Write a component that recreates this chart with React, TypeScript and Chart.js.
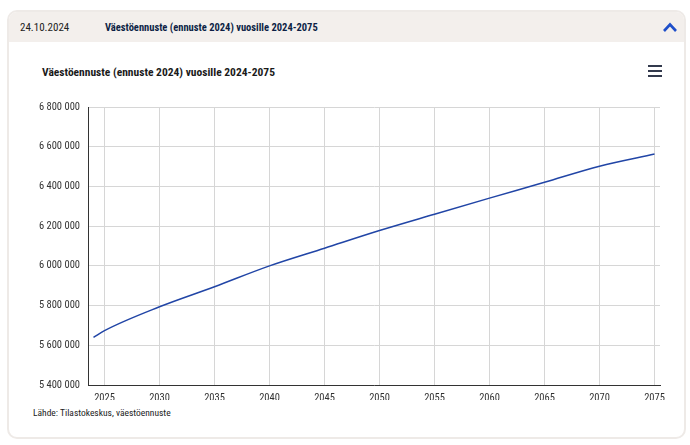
import React, { useEffect, useRef } from "react";
import { Chart, registerables } from "chart.js";

Chart.register(...registerables);

const years = [2024, 2025, 2030, 2035, 2040, 2045, 2050, 2055, 2060, 2065, 2070, 2075];
const population = [5640000, 5674000, 5794000, 5895000, 6000000, 6089000, 6178000, 6260000, 6341000, 6421000, 6502000, 6563000];
const xTickYears = [2025, 2030, 2035, 2040, 2045, 2050, 2055, 2060, 2065, 2070, 2075];
const yMin = 5400000;
const yMax = 6800000;
const yStep = 200000;

const headerDate = "24.10.2024";
const chartTitle = "Väestöennuste (ennuste 2024) vuosille 2024-2075";
const sourceText = "Lähde: Tilastokeskus, väestöennuste";

const FONT = '"Liberation Sans Narrow", "Roboto Condensed", Roboto, sans-serif';

function fmt(v: number) {
  return String(Math.round(v)).replace(/\B(?=(\d{3})+(?!\d))/g, " ");
}

export default function App() {
  const ref = useRef<HTMLCanvasElement | null>(null);

  useEffect(() => {
    if (!ref.current) return;
    const chart = new Chart(ref.current, {
      type: "line",
      data: {
        datasets: [
          {
            data: years.map((y, i) => ({ x: y, y: population[i] })),
            borderColor: "#2145a6",
            borderWidth: 1.5,
            pointRadius: 0,
            cubicInterpolationMode: "monotone",
            fill: false,
          },
        ],
      },
      options: {
        animation: false,
        responsive: false,
        maintainAspectRatio: false,
        layout: { padding: { left: 20, right: 30, top: 107, bottom: 45 } },
        plugins: { legend: { display: false }, tooltip: { enabled: false }, title: { display: false } },
        scales: {
          x: {
            type: "linear",
            min: 2023.5,
            max: 2075.5,
            afterBuildTicks: (scale: any) => {
              scale.ticks = xTickYears.map((v) => ({ value: v }));
            },
            afterFit: (scale: any) => {
              scale.height = 15;
            },
            grid: { color: "#d6d6d6", lineWidth: 1, drawTicks: false },
            border: { color: "#333333", width: 1 },
            ticks: {
              padding: 7,
              color: "#333333",
              font: { family: FONT, size: 10.5 },
              callback: (v: any) => String(v),
              maxRotation: 0,
              autoSkip: false,
            },
          },
          y: {
            type: "linear",
            min: yMin,
            max: yMax,
            afterFit: (scale: any) => {
              scale.width = 68;
            },
            grid: { color: "#d6d6d6", lineWidth: 1, drawTicks: false },
            border: { color: "#333333", width: 1 },
            ticks: {
              stepSize: yStep,
              padding: 8,
              color: "#333333",
              font: { family: FONT, size: 10.5 },
              callback: (v: any) => fmt(Number(v)),
            },
          },
        },
      },
    } as any);
    return () => chart.destroy();
  }, []);

  return (
    <div style={{ position: "absolute", left: 0, top: 0, width: 690, height: 445, background: "#fff", fontFamily: FONT }}>
      <div
        style={{
          position: "absolute",
          left: 7,
          top: 10,
          width: 675,
          height: 425,
          border: "2px solid #eeeae7",
          borderRadius: 10,
          background: "#fff",
          overflow: "hidden",
        }}
      >
        <div style={{ position: "absolute", left: 0, top: 0, right: 0, height: 30, background: "#f3efec" }} />
        <div style={{ position: "absolute", left: 11, top: 9, fontSize: 11, color: "#222" }}>{headerDate}</div>
        <div style={{ position: "absolute", left: 96, top: 9, fontSize: 10.5, fontWeight: "bold", color: "#0d1f45" }}>
          {chartTitle}
        </div>
        <svg style={{ position: "absolute", left: 653, top: 9 }} width="16" height="12" viewBox="0 0 16 12">
          <polyline points="2,10 8,3.5 14,10" fill="none" stroke="#1f4fc9" strokeWidth="2.6" />
        </svg>
      </div>
      <div style={{ position: "absolute", left: 42, top: 65, fontSize: 11.5, fontWeight: "bold", color: "#1a1a1a" }}>
        {chartTitle}
      </div>
      <div style={{ position: "absolute", left: 648, top: 65 }}>
        <div style={{ width: 14, height: 2, background: "#333a4d", marginBottom: 3 }} />
        <div style={{ width: 14, height: 2, background: "#333a4d", marginBottom: 3 }} />
        <div style={{ width: 14, height: 2, background: "#333a4d" }} />
      </div>
      <div style={{ position: "absolute", left: 33, top: 407, fontSize: 9.5, color: "#222" }}>{sourceText}</div>
      <canvas ref={ref} width={690} height={445} style={{ position: "absolute", left: 0, top: 0, width: 690, height: 445 }} />
    </div>
  );
}
